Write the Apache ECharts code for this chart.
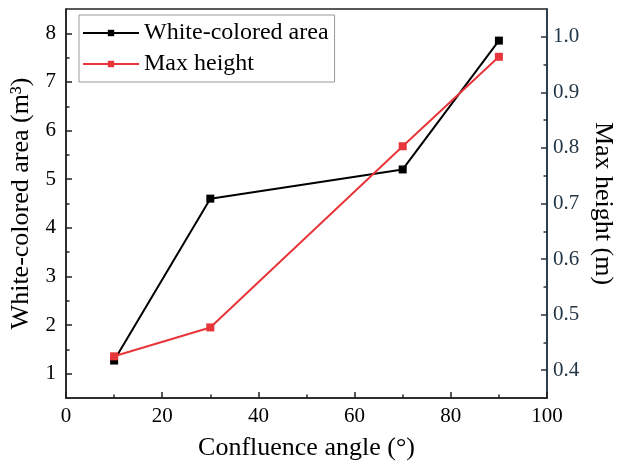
<!DOCTYPE html>
<html>
<head>
<meta charset="utf-8">
<script src="https://cdn.jsdelivr.net/npm/echarts@6/dist/echarts.min.js"></script>
<style>
  html, body { margin: 0; padding: 0; background: #fff; }
  #main { width: 618px; height: 463px; }
</style>
</head>
<body>
<div id="main"></div>
<script>
// data
const angles = [10, 30, 70, 90];
const whiteArea = [1.27, 4.6, 5.2, 7.85];
const maxHeight = [0.425, 0.477, 0.803, 0.964];

const leftTicks = [1, 2, 3, 4, 5, 6, 7, 8];
const leftMinor = [1.5, 2.5, 3.5, 4.5, 5.5, 6.5, 7.5];
const rightTicks = [0.4, 0.5, 0.6, 0.7, 0.8, 0.9, 1.0];
const rightMinor = [0.45, 0.55, 0.65, 0.75, 0.85, 0.95];

const serif = "'Liberation Serif', 'Times New Roman', serif";
const ink = "#222";
const slate = "#243646";

function pairs(xs, ys) {
  return xs.map((x, i) => [x, ys[i]]);
}

let myChart = echarts.init(document.getElementById("main"));

let option = {
  animation: false,
  textStyle: { fontFamily: serif },
  grid: {
    left: 66,
    right: 71,
    top: 9,
    bottom: 65,
    outerBoundsMode: "none",
    containLabel: false,
    show: true,
    borderColor: ink,
    borderWidth: 1.4
  },
  legend: {
    orient: "vertical",
    left: 79,
    top: 15,
    padding: [6, 6, 6, 3],
    itemWidth: 56,
    itemHeight: 8,
    itemGap: 7,
    borderColor: "#999",
    borderWidth: 1,
    textStyle: { fontFamily: serif, fontSize: 24, color: "#000" },
    data: ["White-colored area", "Max height"]
  },
  xAxis: {
    type: "value",
    min: 0,
    max: 100,
    interval: 20,
    name: "Confluence angle (°)",
    nameLocation: "middle",
    nameGap: 37,
    nameTextStyle: { fontFamily: serif, fontSize: 26, color: "#000" },
    axisLine: { lineStyle: { color: ink, width: 1.6 } },
    axisTick: { inside: true, length: 6, lineStyle: { color: ink, width: 1.5 } },
    minorTick: { show: true, splitNumber: 2, length: 3.5, lineStyle: { color: ink, width: 1.5 } },
    axisLabel: { fontFamily: serif, fontSize: 21, color: "#000", margin: 8 },
    splitLine: { show: false }
  },
  yAxis: [
    {
      type: "value",
      position: "left",
      min: 0.5,
      max: 8.5,
      name: "White-colored area (m³)",
      nameLocation: "middle",
      nameGap: 25,
      nameTextStyle: { fontFamily: serif, fontSize: 26, color: "#000" },
      axisLine: { show: true, lineStyle: { color: ink, width: 1.6 } },
      axisTick: { show: true, inside: true, length: 6, customValues: leftTicks, lineStyle: { color: ink, width: 1.5 } },
      axisLabel: { fontFamily: serif, fontSize: 21, color: "#000", margin: 10, customValues: leftTicks },
      splitLine: { show: false }
    },
    {
      type: "value",
      position: "right",
      min: 0.35,
      max: 1.05,
      name: "Max height (m)",
      nameLocation: "middle",
      nameRotate: -90,
      nameGap: 29,
      nameTextStyle: { fontFamily: serif, fontSize: 26, color: "#000" },
      axisLine: { show: true, lineStyle: { color: slate, width: 1.6 } },
      axisTick: { show: true, inside: true, length: 6, customValues: rightTicks, lineStyle: { color: slate, width: 1.5 } },
      axisLabel: {
        fontFamily: serif, fontSize: 21, color: slate, margin: 6,
        customValues: rightTicks,
        formatter: v => v.toFixed(1)
      },
      splitLine: { show: false }
    },
    {
      // minor ticks, left
      type: "value",
      position: "left",
      min: 0.5,
      max: 8.5,
      axisLine: { show: false },
      axisTick: { show: true, inside: true, length: 3.5, customValues: leftMinor, lineStyle: { color: ink, width: 1.5 } },
      axisLabel: { show: false },
      splitLine: { show: false }
    },
    {
      // minor ticks, right
      type: "value",
      position: "right",
      min: 0.35,
      max: 1.05,
      axisLine: { show: false },
      axisTick: { show: true, inside: true, length: 3.5, customValues: rightMinor, lineStyle: { color: slate, width: 1.5 } },
      axisLabel: { show: false },
      splitLine: { show: false }
    }
  ],
  series: [
    {
      name: "White-colored area",
      type: "line",
      yAxisIndex: 0,
      symbol: "rect",
      symbolSize: 8,
      color: "#000",
      lineStyle: { width: 2, color: "#000" },
      itemStyle: { color: "#000" },
      data: pairs(angles, whiteArea)
    },
    {
      name: "Max height",
      type: "line",
      yAxisIndex: 1,
      symbol: "rect",
      symbolSize: 8,
      color: "#e8353a",
      lineStyle: { width: 2, color: "#e8353a" },
      itemStyle: { color: "#e8353a" },
      data: pairs(angles, maxHeight)
    }
  ]
};

myChart.setOption(option);
</script>
</body>
</html>
